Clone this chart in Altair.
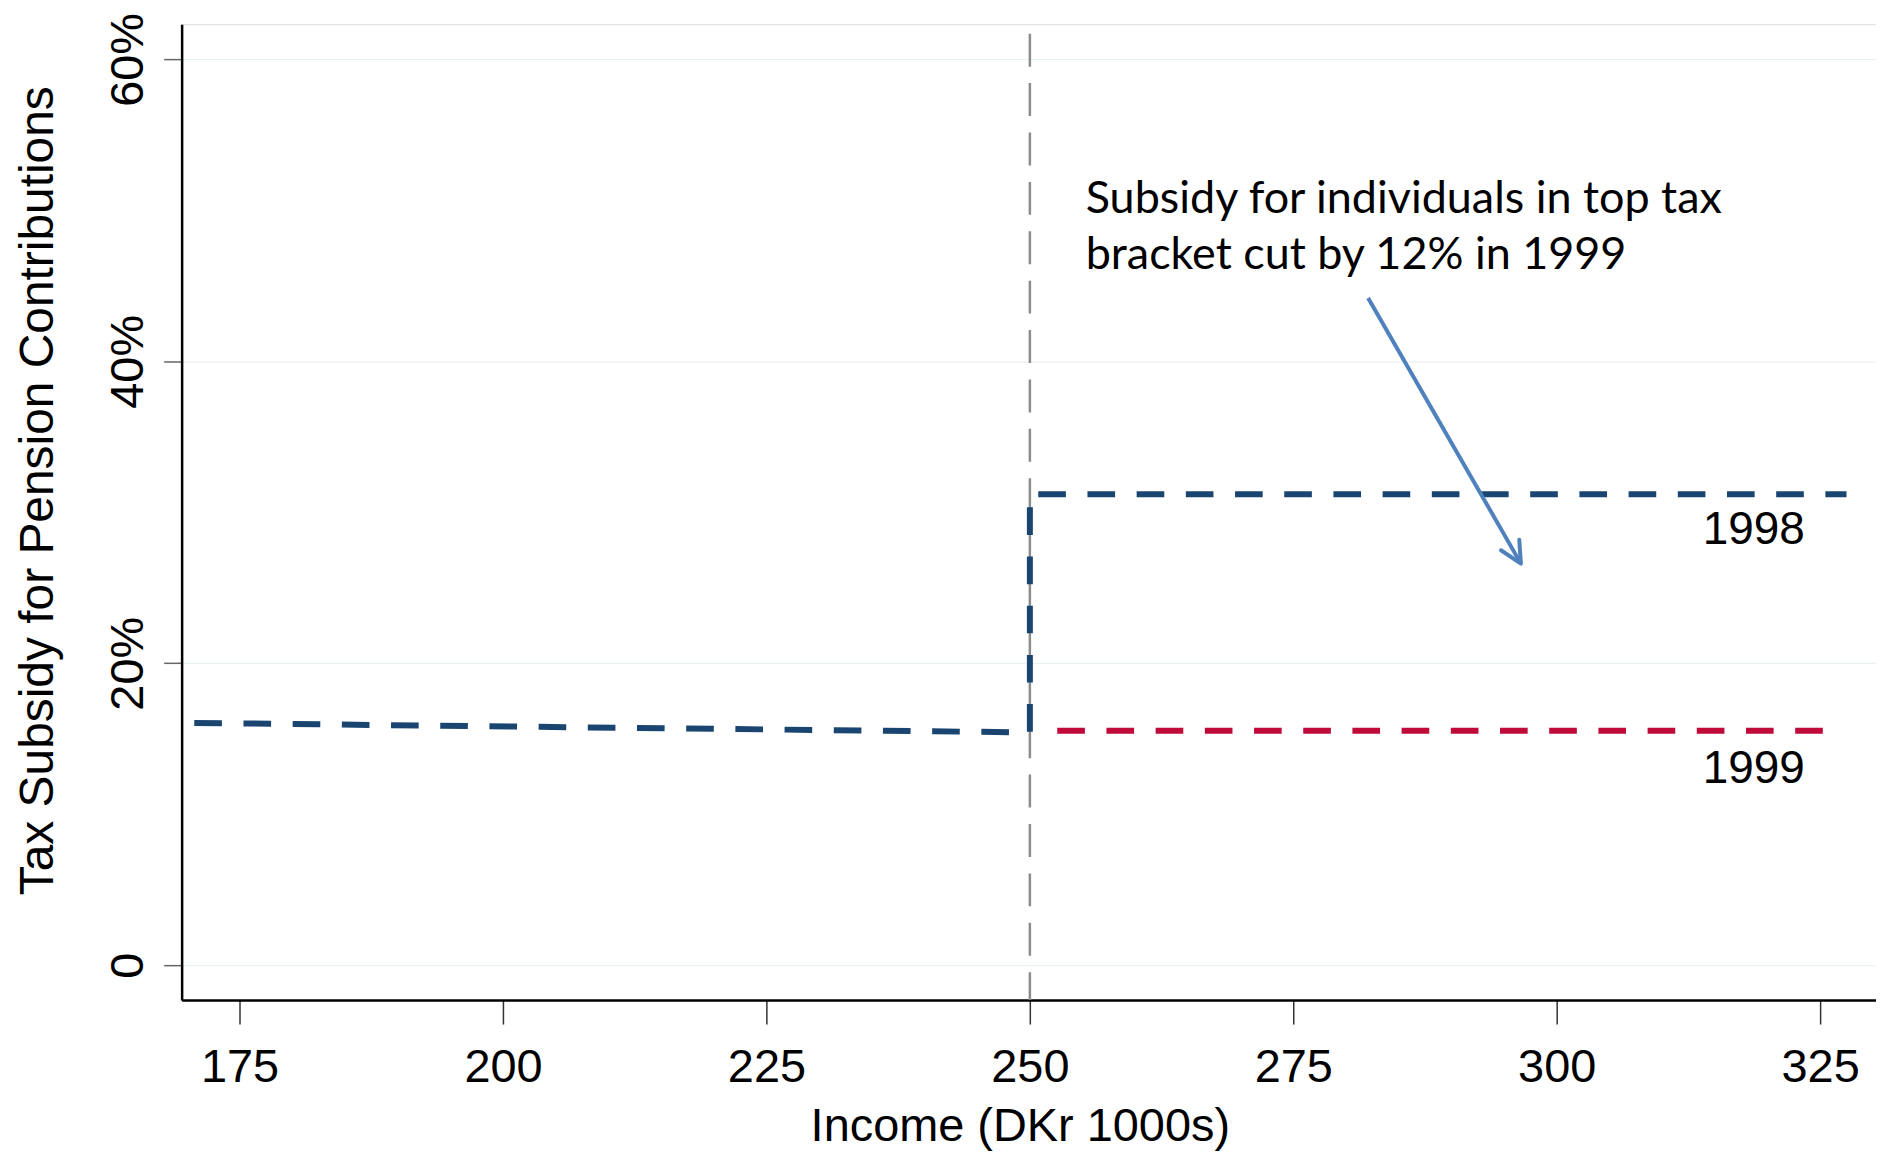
import altair as alt
import pandas as pd

# ---- data ----
x_ticks = [175, 200, 225, 250, 275, 300, 325]
y_ticks = [0, 20, 40, 60]

income_1998 = [170.7, 250.0, 250.0, 327.5]
subsidy_1998 = [16.05, 15.42, 31.2, 31.2]
order_1998 = [0, 1, 2, 3]

income_1999 = [252.6, 325.5]
subsidy_1999 = [15.53, 15.53]

threshold_x = [250]
threshold_top = [61.7]

year_labels = ["1998", "1999"]
year_label_x = [318.7, 318.7]
year_label_y = [27.9, 12.07]

note_lines = ["Subsidy for individuals in top tax", "bracket cut by 12% in 1999"]
note_x = [255.3, 255.3]
note_y = [49.85, 46.13]

arrow_start = [282.1, 44.2]
arrow_end = [296.6, 26.6]

x_domain = [169.5, 330.3]
y_domain = [-2.31, 62.33]

# ---- tables ----
df98 = pd.DataFrame({"x": income_1998, "y": subsidy_1998, "i": order_1998})
df99 = pd.DataFrame({"x": income_1999, "y": subsidy_1999})
dfv = pd.DataFrame({"x": threshold_x, "y": threshold_top, "y2": [y_domain[0]]})
dfyear = pd.DataFrame({"x": year_label_x, "y": year_label_y, "t": year_labels})
dfnote = pd.DataFrame({"x": note_x, "y": note_y, "t": note_lines})
dfarrow = pd.DataFrame({"x": [arrow_start[0]], "y": [arrow_start[1]],
                        "x2": [arrow_end[0]], "y2": [arrow_end[1]]})
dfhead = pd.DataFrame({"x": [arrow_end[0]], "y": [arrow_end[1]]})

FONT = "Liberation Sans"

xs = alt.Scale(domain=x_domain, nice=False, zero=False)
ys = alt.Scale(domain=y_domain, nice=False, zero=False)

xaxis = alt.Axis(
    values=x_ticks, format="d", labelFont=FONT, labelFontSize=47, labelColor="black",
    labelPadding=58, labelBaseline="alphabetic", labelFlush=False,
    tickSize=24, tickColor="#333333", tickWidth=1.5,
    domainColor="black", domainWidth=2.5, grid=False,
    title="Income (DKr 1000s)", titleFont=FONT, titleFontSize=47,
    titleFontWeight="normal", titleColor="black",
    titleX=840, titleY=141, titleAlign="center", titleBaseline="alphabetic",
)
yaxis = alt.Axis(
    values=y_ticks, labelExpr="datum.value == 0 ? '0' : datum.value + '%'",
    labelFont=FONT, labelFontSize=47, labelColor="black",
    labelAngle=270, labelAlign="center", labelBaseline="alphabetic", labelPadding=21,
    tickSize=18, tickColor="#666666", tickWidth=1.5,
    domainColor="black", domainWidth=2.5,
    grid=True, gridColor="#E6EEF0", gridWidth=1,
    title="Tax Subsidy for Pension Contributions", titleFont=FONT, titleFontSize=48,
    titleFontWeight="normal", titleColor="black",
    titleAngle=270, titleAlign="center", titleBaseline="alphabetic",
    titleX=-129, titleY=467,
)

X = alt.X("x:Q", scale=xs, axis=xaxis)
Y = alt.Y("y:Q", scale=ys, axis=yaxis)

vline = alt.Chart(dfv).mark_rule(color="#8C8C8C", strokeWidth=2.5, strokeDash=[33, 16.5]).encode(
    x=X, y=Y, y2="y2:Q")

line98 = alt.Chart(df98).mark_line(color="#1B4571", strokeWidth=6, strokeDash=[27.7, 21.6]).encode(
    x=X, y=Y, order=alt.Order("i:Q"))

line99 = alt.Chart(df99).mark_line(color="#C00A3A", strokeWidth=6, strokeDash=[27.7, 21.6]).encode(
    x=X, y=Y)

years = alt.Chart(dfyear).mark_text(font=FONT, fontSize=46, color="black", align="center",
                                    baseline="alphabetic").encode(x=X, y=Y, text="t:N")

note = alt.Chart(dfnote).mark_text(font="Lato", fontSize=45, color="black", align="left",
                                   baseline="alphabetic").encode(x=X, y=Y, text="t:N")

shaft = alt.Chart(dfarrow).mark_rule(color="#4F81BD", strokeWidth=4).encode(
    x=X, y=Y, x2="x2:Q", y2="y2:Q")

head = alt.Chart(dfhead).mark_point(
    shape="M -0.44 -0.9 L 0 0 L 0.44 -0.9", size=2304, filled=False,
    color="#4F81BD", strokeWidth=4, angle=330, opacity=1, strokeCap="round", strokeJoin="round"
).encode(x=X, y=Y)

chart = alt.layer(vline, line98, line99, shaft, head, years, note).properties(
    width=1698, height=978,
    autosize=alt.AutoSizeParams(type="none"),
    padding={"left": 174, "top": 15, "right": 0, "bottom": 150},
).configure_view(stroke=None).configure(background="white")

chart.save("out.html", embed_options={"renderer": "svg", "actions": False})
